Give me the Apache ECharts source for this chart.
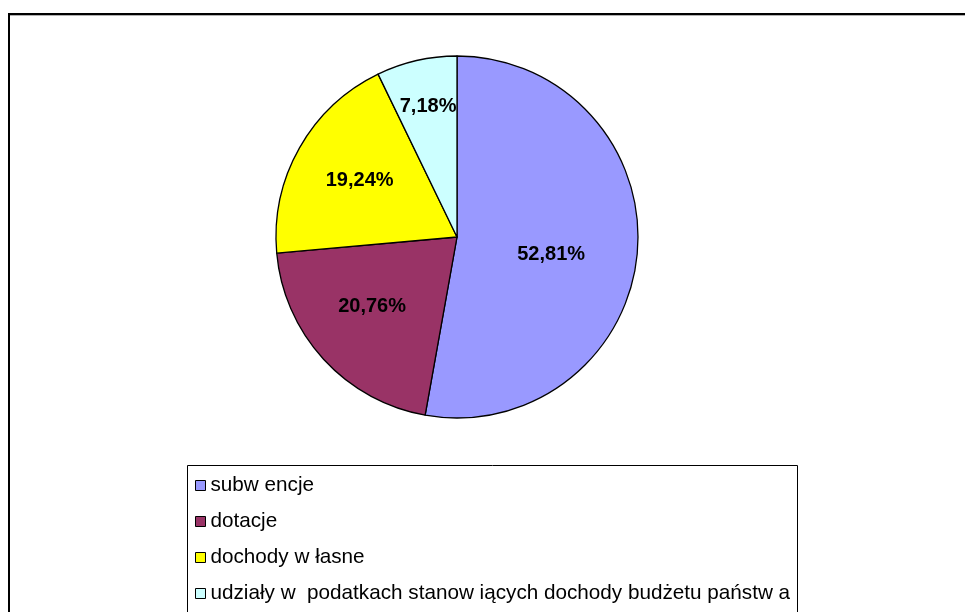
<!DOCTYPE html>
<html>
<head>
<meta charset="utf-8">
<script src="https://cdn.jsdelivr.net/npm/echarts@6/dist/echarts.min.js"></script>
<style>
html,body{margin:0;padding:0;background:#fff;}
#chart{width:965px;height:612px;}
</style>
</head>
<body>
<div id="chart"></div>
<script>
var categories = ['subw encje', 'dotacje', 'dochody w łasne', 'udziały w  podatkach stanow iących dochody budżetu państw a'];
var values = [52.81, 20.76, 19.24, 7.18];
var colors = ['#9999FF', '#993366', '#FFFF00', '#CCFFFF'];

var chart = echarts.init(document.getElementById('chart'), null, {renderer: 'canvas'});
var labelShift = [[1, 9], [-16, 6], [-16, -10], [-8, -39]];

var option = {
  animation: false,
  backgroundColor: '#ffffff',
  graphic: [
    {type: 'rect', shape: {x: 9, y: 14, width: 2000, height: 2000},
     style: {fill: 'none', stroke: '#000', lineWidth: 2}, z: 0},
    {type: 'line', shape: {x1: 10, y1: 15.5, x2: 2000, y2: 15.5},
     style: {stroke: '#b0b0b0', lineWidth: 1}, z: 0},
    {type: 'rect', shape: {x: 187.5, y: 465.5, width: 610, height: 300},
     style: {fill: '#fff', stroke: '#000', lineWidth: 1}, z: 0}
  ],
  legend: {
    orient: 'vertical',
    left: 187,
    top: 465,
    height: 400,
    padding: [10, 8, 8, 8],
    itemWidth: 10,
    itemHeight: 10,
    itemGap: 15,
    icon: 'rect',
    itemStyle: {borderColor: '#000', borderWidth: 1},
    textStyle: {fontFamily: 'Liberation Sans, Arial, sans-serif', fontSize: 20.7, color: '#000', lineHeight: 20},
    data: categories,
    z: 5
  },
  series: [{
    type: 'pie',
    center: [457, 237],
    radius: 181,
    startAngle: 90,
    clockwise: true,
    avoidLabelOverlap: false,
    itemStyle: {borderColor: '#000', borderWidth: 1.3},
    label: {
      show: true,
      position: 'inside',
      formatter: function (p) { return p.value.toFixed(2).replace('.', ',') + '%'; },
      fontFamily: 'Liberation Sans, Arial, sans-serif',
      fontWeight: 'bold',
      fontSize: 20,
      color: '#000'
    },
    labelLayout: function (params) {
      var s = labelShift[params.dataIndex];
      return {dx: s[0], dy: s[1]};
    },
    emphasis: {disabled: true},
    data: categories.map(function (c, i) {
      return {name: c, value: values[i], itemStyle: {color: colors[i]}};
    })
  }]
};
chart.setOption(option);
</script>
</body>
</html>
